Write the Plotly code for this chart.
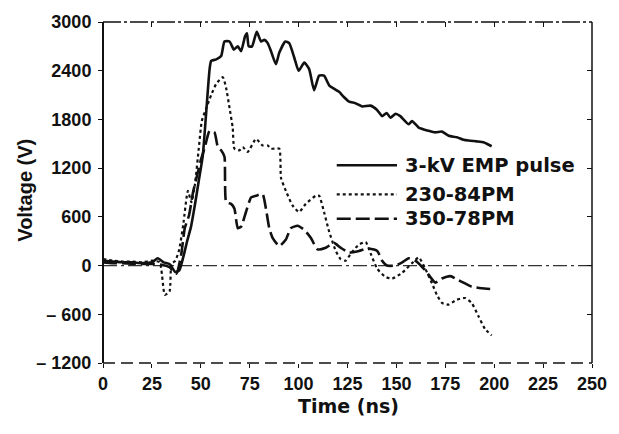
import plotly.graph_objects as go

# ---- data ----
emp_t = [0, 5, 10, 15, 20, 25, 28, 31, 34, 37, 39, 41, 43, 45, 47, 49, 51, 52.8, 54.5, 55.3, 57.9, 60.4,
         62.1, 64.7, 66.9, 68.9, 70.6, 72.6, 73.6, 74.5, 76.2, 78.6, 80.8, 82.5, 84.2, 85.9, 88.4, 90.1,
         93.2, 95.2, 97.8, 100, 102.9, 105.4, 107.9, 110.5, 113, 115.6, 118, 120.7, 123, 125.8, 129,
         132.5, 136.8, 140, 142.7, 145, 147, 149.5, 152, 156.3, 158, 161.4, 166.5, 169.9, 173.3, 176.7,
         180.9, 184.3, 186.9, 191, 194.5, 196.2, 198.7]
emp_v = [60, 50, 40, 40, 30, 40, 90, 40, 20, -80, -60, 100, 300, 480, 750, 1050, 1350, 1900, 2420, 2520,
         2540, 2580, 2760, 2760, 2660, 2700, 2640, 2820, 2860, 2700, 2700, 2880, 2760, 2780, 2740, 2640,
         2480, 2620, 2760, 2740, 2560, 2400, 2500, 2420, 2160, 2340, 2340, 2220, 2180, 2140, 2080, 2020,
         2000, 1960, 1970, 1920, 1840, 1880, 1820, 1870, 1840, 1740, 1780, 1700, 1660, 1640, 1650, 1600,
         1580, 1550, 1540, 1530, 1520, 1500, 1470]

pm230_t = [0, 5, 10, 15, 20, 25, 29, 31.6, 34, 35, 37, 39, 41, 43.4, 45.2, 47, 49, 50.5, 52.8, 55.3,
           57.9, 61.3, 63, 64.7, 66.3, 67.2, 69.8, 71.4, 74, 78.2, 81.6, 84.2, 85.9, 90.1, 91, 93.5,
           96.9, 100.3, 103.7, 108.8, 110.5, 113, 115.6, 119, 121.5, 124, 127.4, 130.9, 134.3, 136.8,
           140.2, 144.4, 147.8, 152.9, 158, 161.4, 164.8, 168.2, 170.7, 173.3, 176.7, 180.9, 185.1,
           188.5, 191.9, 195.3, 198.7]
pm230_v = [80, 60, 50, 50, 40, 60, 40, -360, -320, 20, 60, 200, 500, 920, 780, 1000, 1450, 1780, 1940,
           2100, 2240, 2320, 2180, 1940, 1700, 1440, 1420, 1460, 1400, 1560, 1480, 1480, 1440, 1440,
           1080, 920, 740, 660, 760, 860, 860, 660, 420, 180, 80, 60, 170, 260, 290, 150, -40, -140,
           -160, -90, 30, 100, -40, -220, -360, -460, -480, -420, -400, -460, -620, -780, -860]

pm350_t = [0, 5, 10, 15, 20, 25, 30, 34, 37.5, 40, 41.8, 44, 46, 48, 50, 52, 54.5, 57, 58.7, 60.4,
           62.1, 63, 65.5, 67.2, 68.9, 70.6, 73.1, 75.7, 78.2, 81.6, 83.3, 85, 86.7, 90.1, 93.5, 96,
           99.5, 102.9, 106.3, 109.7, 113.9, 118.1, 121.5, 125.8, 130.9, 135.1, 140.2, 142.7, 145.2,
           149.5, 153, 156.3, 159.7, 164.8, 169.9, 173.3, 177.6, 181.8, 185.1, 188.5, 193.5, 198.7]
pm350_v = [40, 30, 30, 20, 20, 20, 10, -20, -100, 140, 460, 620, 900, 1100, 1300, 1450, 1660, 1640,
           1460, 1420, 1340, 780, 760, 700, 460, 480, 660, 840, 860, 880, 700, 460, 340, 240, 320, 460,
           490, 440, 340, 200, 220, 280, 220, 160, 180, 210, 180, 60, 0, 0, 40, 90, 60, -60, -210, -160,
           -130, -180, -220, -260, -280, -290]

series_names = ["3-kV EMP pulse", "230-84PM", "350-78PM"]
x_ticks = [0, 25, 50, 75, 100, 125, 150, 175, 200, 225, 250]
y_ticks = [-1200, -600, 0, 600, 1200, 1800, 2400, 3000]
y_ticktext = ["\u2013 1200", "\u2013 600", "0", "600", "1200", "1800", "2400", "3000"]

# ---- figure ----
BLACK = "#111111"
dashes = ["solid", "3px,3px", "14px,5px"]
widths = [2.6, 2.2, 2.6]

fig = go.Figure()
# zero line
fig.add_trace(go.Scatter(x=[0, 250], y=[0, 0], mode="lines", showlegend=False, hoverinfo="skip",
                         line=dict(color="#333333", width=1.2, dash="14px,4px,3px,4px")))
for tt, vv, nm, ds, w in zip([emp_t, pm230_t, pm350_t], [emp_v, pm230_v, pm350_v],
                             series_names, dashes, widths):
    fig.add_trace(go.Scatter(x=tt, y=vv, mode="lines", name=nm, showlegend=False,
                             line=dict(color=BLACK, width=w, dash=ds, shape="spline", smoothing=0.5)))
# dummy trace for mirrored axes
fig.add_trace(go.Scatter(x=[None], y=[None], xaxis="x2", yaxis="y2", showlegend=False, hoverinfo="skip"))

# custom legend
leg_y = [1236, 876, 576]
shapes = []
annotations = []
for nm, ds, w, yy in zip(series_names, dashes, widths, leg_y):
    shapes.append(dict(type="line", xref="x", yref="y", x0=119.5, x1=150.3, y0=yy, y1=yy,
                       line=dict(color=BLACK, width=w, dash=ds)))
    annotations.append(dict(x=153.3, y=yy, xref="x", yref="y", text=nm, showarrow=False,
                            xanchor="left", yanchor="middle",
                            font=dict(family="DejaVu Sans", size=19.5, color=BLACK, weight="bold")))

# frame
shapes += [
    dict(type="line", xref="paper", yref="paper", x0=0, x1=0, y0=0, y1=1, line=dict(color=BLACK, width=2)),
    dict(type="line", xref="paper", yref="paper", x0=1, x1=1, y0=0, y1=1, line=dict(color=BLACK, width=1.5)),
    dict(type="line", xref="paper", yref="paper", x0=0, x1=1, y0=1, y1=1,
         line=dict(color=BLACK, width=1.5, dash="18px,3px,3px,3px")),
    dict(type="line", xref="paper", yref="paper", x0=0, x1=1, y0=0, y1=0,
         line=dict(color=BLACK, width=1.4, dash="12px,6px")),
]

annotations.append(dict(x=0.503, y=-0.125, xref="paper", yref="paper", text="Time (ns)", showarrow=False,
                        xanchor="center", yanchor="middle",
                        font=dict(family="DejaVu Sans", size=19, color=BLACK, weight="bold")))
annotations.append(dict(x=-0.159, y=0.506, xref="paper", yref="paper", text="Voltage (V)", showarrow=False,
                        textangle=-90, xanchor="center", yanchor="middle",
                        font=dict(family="Liberation Sans", size=20, color=BLACK, weight="bold")))

tickfont = dict(family="Liberation Sans", size=18, color=BLACK, weight="bold")
fig.update_layout(
    width=619, height=434,
    margin=dict(l=103, r=25, t=15, b=71),
    paper_bgcolor="white", plot_bgcolor="white",
    showlegend=False,
    xaxis=dict(range=[0, 250], tickvals=x_ticks, ticks="outside", ticklen=4, tickwidth=1.2,
               tickcolor=BLACK, showgrid=False, zeroline=False, showline=False,
               tickfont=tickfont, ticklabelstandoff=0),
    yaxis=dict(range=[-1200, 3000], tickvals=y_ticks, ticktext=y_ticktext, ticks="outside",
               ticklen=4, tickwidth=1.2, tickcolor=BLACK, showgrid=False, zeroline=False,
               showline=False, tickfont=tickfont, ticklabelstandoff=3),
    xaxis2=dict(range=[0, 250], overlaying="x", side="top", anchor="y", tickvals=x_ticks,
                ticks="inside", ticklen=5, tickwidth=1.2, tickcolor=BLACK, showticklabels=False,
                showgrid=False, zeroline=False, showline=False),
    yaxis2=dict(range=[-1200, 3000], overlaying="y", side="right", anchor="x", tickvals=y_ticks,
                ticks="inside", ticklen=5, tickwidth=1.2, tickcolor=BLACK, showticklabels=False,
                showgrid=False, zeroline=False, showline=False),
    shapes=shapes,
    annotations=annotations,
)

fig.write_html("out.html")
